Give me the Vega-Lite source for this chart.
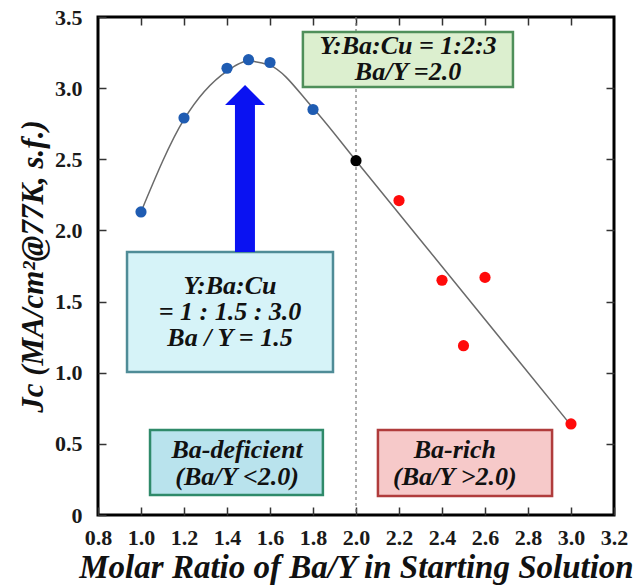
{
  "$schema": "https://vega.github.io/schema/vega-lite/v6.json",
  "width": 516,
  "height": 498,
  "autosize": "none",
  "padding": {"left": 98, "top": 17, "right": 22, "bottom": 73},
  "background": "white",
  "config": {
    "view": {"stroke": "black", "strokeWidth": 3},
    "axis": {
      "domain": false,
      "grid": false,
      "labelFlush": false,
      "labelFont": "Liberation Serif",
      "labelFontWeight": "bold",
      "labelFontSize": 22,
      "labelColor": "#1a1a1a",
      "tickColor": "#333",
      "tickWidth": 1.5,
      "titleFont": "Liberation Serif",
      "titleFontWeight": "bold",
      "titleFontStyle": "italic",
      "titleColor": "#111"
    }
  },
  "datasets": {
    "pts": [
      {"ratio": 1.0, "jc": 2.13, "group": "deficient"},
      {"ratio": 1.2, "jc": 2.79, "group": "deficient"},
      {"ratio": 1.4, "jc": 3.14, "group": "deficient"},
      {"ratio": 1.5, "jc": 3.2, "group": "deficient"},
      {"ratio": 1.6, "jc": 3.18, "group": "deficient"},
      {"ratio": 1.8, "jc": 2.85, "group": "deficient"},
      {"ratio": 2.0, "jc": 2.49, "group": "stoichiometric"},
      {"ratio": 2.2, "jc": 2.21, "group": "rich"},
      {"ratio": 2.4, "jc": 1.65, "group": "rich"},
      {"ratio": 2.5, "jc": 1.19, "group": "rich"},
      {"ratio": 2.6, "jc": 1.67, "group": "rich"},
      {"ratio": 3.0, "jc": 0.64, "group": "rich"}
    ],
    "fit": [
      {"ratio": 1.0, "jc": 2.13},
      {"ratio": 1.2, "jc": 2.78},
      {"ratio": 1.4, "jc": 3.12},
      {"ratio": 1.5, "jc": 3.19},
      {"ratio": 1.6, "jc": 3.16},
      {"ratio": 1.8, "jc": 2.86},
      {"ratio": 2.0, "jc": 2.49},
      {"ratio": 2.5, "jc": 1.56},
      {"ratio": 3.0, "jc": 0.63}
    ],
    "boxes": [
      {"kind": "stoich", "x1": 1.753, "x2": 2.73, "y1": 3.008, "y2": 3.394},
      {"kind": "opt", "x1": 0.935, "x2": 1.893, "y1": 1.005, "y2": 1.848},
      {"kind": "def", "x1": 1.042, "x2": 1.846, "y1": 0.14, "y2": 0.597},
      {"kind": "rich", "x1": 2.102, "x2": 2.912, "y1": 0.134, "y2": 0.597}
    ],
    "labels": [
      {"kind": "stoich", "lx": 2.242, "ly": 3.296, "label": ["Y:Ba:Cu = 1:2:3", "Ba/Y =2.0"]},
      {"kind": "opt", "lx": 1.414, "ly": 1.609, "label": ["Y:Ba:Cu", "= 1 : 1.5  : 3.0", "Ba / Y  = 1.5"]},
      {"kind": "def", "lx": 1.447, "ly": 0.457, "label": ["Ba-deficient", "(Ba/Y <2.0)"]},
      {"kind": "rich", "lx": 2.46, "ly": 0.457, "label": ["Ba-rich", "(Ba/Y >2.0)"]}
    ]
  },
  "layer": [
    {
      "data": {"values": [{"ratio": 2.0}]},
      "mark": {"type": "rule", "color": "#777", "strokeWidth": 1.2, "strokeDash": [3, 3]},
      "encoding": {
        "x": {"field": "ratio", "type": "quantitative", "scale": {"domain": [0.8, 3.2], "nice": false}, "axis": null}
      }
    },
    {
      "data": {"name": "fit"},
      "mark": {"type": "line", "color": "#6a6a6a", "strokeWidth": 1.5, "interpolate": "monotone"},
      "encoding": {
        "x": {"field": "ratio", "type": "quantitative", "scale": {"domain": [0.8, 3.2], "nice": false},
          "axis": {"orient": "bottom", "values": [0.8, 1.0, 1.2, 1.4, 1.6, 1.8, 2.0, 2.2, 2.4, 2.6, 2.8, 3.0, 3.2], "format": ".1f", "tickSize": -8, "labelPadding": 20, "title": "Molar Ratio of Ba/Y in Starting Solution", "titleFontSize": 33, "titlePadding": 3}},
        "y": {"field": "jc", "type": "quantitative", "scale": {"domain": [0, 3.5], "nice": false},
          "axis": {"orient": "left", "values": [0, 0.5, 1.0, 1.5, 2.0, 2.5, 3.0, 3.5], "labelExpr": "datum.value == 0 ? '0' : format(datum.value, '.1f')", "tickSize": -8, "labelPadding": 24, "title": "Jc (MA/cm²@77K, s.f.)", "titleFontSize": 31, "titlePadding": 5}}
      }
    },
    {
      "data": {"name": "pts"},
      "mark": {"type": "point", "filled": true, "opacity": 1, "size": 125},
      "encoding": {
        "x": {"field": "ratio", "type": "quantitative",
          "axis": {"orient": "top", "values": [1.0, 1.2, 1.4, 1.6, 1.8, 2.0, 2.2, 2.4, 2.6, 2.8, 3.0], "labels": false, "tickSize": -8, "title": null}},
        "y": {"field": "jc", "type": "quantitative",
          "axis": {"orient": "right", "values": [0.5, 1.0, 1.5, 2.0, 2.5, 3.0], "labels": false, "tickSize": -8, "title": null}},
        "color": {"field": "group", "type": "nominal", "legend": null,
          "scale": {"domain": ["deficient", "stoichiometric", "rich"], "range": ["#1f5cb2", "#000000", "#ff0a0a"]}}
      }
    },
    {
      "data": {"name": "boxes"},
      "mark": {"type": "rect", "strokeWidth": 2.5},
      "encoding": {
        "x": {"field": "x1", "type": "quantitative", "axis": null},
        "x2": {"field": "x2"},
        "y": {"field": "y1", "type": "quantitative", "axis": null},
        "y2": {"field": "y2"},
        "fill": {"field": "kind", "type": "nominal", "legend": null,
          "scale": {"domain": ["stoich", "opt", "def", "rich"], "range": ["#dcefcf", "#d6f3f8", "#b9e3ed", "#f6c9c9"]}},
        "stroke": {"field": "kind", "type": "nominal", "legend": null,
          "scale": {"domain": ["stoich", "opt", "def", "rich"], "range": ["#4f8f5a", "#4f8c97", "#2f8a6a", "#b03c3c"]}}
      }
    },
    {
      "data": {"values": [{"xa": 1.437, "xb": 1.53, "ya": 1.848, "yb": 2.885}]},
      "mark": {"type": "rect", "color": "#0a12f2"},
      "encoding": {
        "x": {"field": "xa", "type": "quantitative", "axis": null},
        "x2": {"field": "xb"},
        "y": {"field": "ya", "type": "quantitative", "axis": null},
        "y2": {"field": "yb"}
      }
    },
    {
      "data": {"values": [{"xh": 1.484, "yh": 2.951}]},
      "mark": {"type": "point", "filled": true, "opacity": 1, "color": "#0a12f2", "size": 1600, "shape": "M-1,0.5L1,0.5L0,-0.5Z"},
      "encoding": {
        "x": {"field": "xh", "type": "quantitative", "axis": null},
        "y": {"field": "yh", "type": "quantitative", "axis": null}
      }
    },
    {
      "data": {"name": "labels"},
      "transform": [{"filter": "datum.kind == 'stoich' || datum.kind == 'opt'"}],
      "mark": {"type": "text", "font": "Liberation Serif", "fontWeight": "bold", "fontStyle": "italic", "fontSize": 26, "lineHeight": 26, "align": "center", "baseline": "middle", "color": "#111"},
      "encoding": {
        "x": {"field": "lx", "type": "quantitative", "axis": null},
        "y": {"field": "ly", "type": "quantitative", "axis": null},
        "text": {"field": "label"}
      }
    },
    {
      "data": {"name": "labels"},
      "transform": [{"filter": "datum.kind == 'def' || datum.kind == 'rich'"}],
      "mark": {"type": "text", "font": "Liberation Serif", "fontWeight": "bold", "fontStyle": "italic", "fontSize": 26, "lineHeight": 27, "align": "center", "baseline": "middle", "color": "#111"},
      "encoding": {
        "x": {"field": "lx", "type": "quantitative", "axis": null},
        "y": {"field": "ly", "type": "quantitative", "axis": null},
        "text": {"field": "label"}
      }
    }
  ],
  "resolve": {"axis": {"x": "independent", "y": "independent"}}
}
